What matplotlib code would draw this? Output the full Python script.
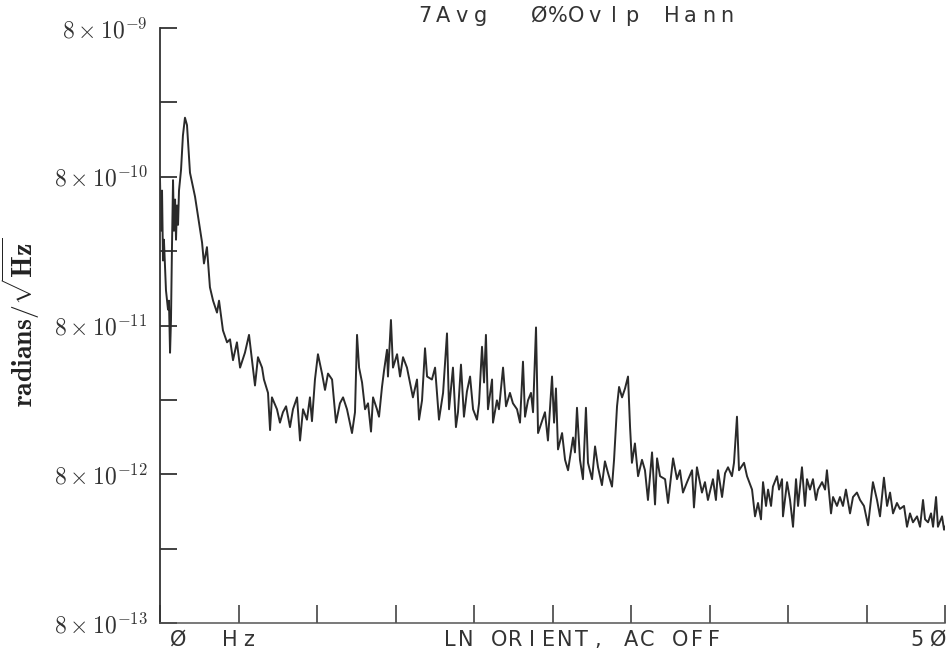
import numpy as np
import matplotlib
matplotlib.use("Agg")
import matplotlib.pyplot as plt
from matplotlib.ticker import FixedLocator, NullFormatter

# spectrum: frequency (Hz) and log10 of amplitude (radians/sqrt(Hz))
freq_hz = [
    0.00, 0.06, 0.13, 0.19, 0.25, 0.38, 0.51, 0.57, 0.64, 0.70, 0.76, 0.83, 0.89, 0.96,
    1.02, 1.08, 1.15, 1.21, 1.34, 1.46, 1.59, 1.72, 1.91, 2.23, 2.68, 2.80, 2.99, 3.18,
    3.38, 3.63, 3.76, 4.01, 4.27, 4.46, 4.65, 4.90, 5.10, 5.41, 5.67, 5.92, 6.05, 6.24,
    6.50, 6.62, 6.88, 7.01, 7.13, 7.45, 7.64, 7.83, 8.03, 8.28, 8.47, 8.73, 8.92, 9.11,
    9.36, 9.55, 9.68, 9.87, 10.06, 10.32, 10.51, 10.70, 10.96, 11.21,
    11.46, 11.66, 11.91, 12.23, 12.42, 12.55, 12.68, 12.87, 13.06, 13.25, 13.44, 13.57,
    13.82, 13.95, 14.14, 14.27, 14.46, 14.52, 14.71, 14.84, 15.10, 15.29, 15.48, 15.73,
    15.92, 16.11, 16.37, 16.50, 16.69, 16.88, 17.01, 17.32, 17.52, 17.77, 18.03, 18.28,
    18.41, 18.66, 18.85, 18.98, 19.17, 19.36, 19.55, 19.75, 19.94, 20.19, 20.32, 20.51,
    20.64, 20.76, 20.89, 21.15, 21.21, 21.46, 21.59, 21.85, 22.04, 22.29, 22.48, 22.74,
    22.93, 23.12, 23.25, 23.44, 23.63, 23.76, 23.95, 24.08,
    24.52, 24.71, 24.97, 25.10, 25.22, 25.35, 25.61, 25.80, 25.99, 26.31, 26.43, 26.56,
    26.75, 26.94, 27.13, 27.26, 27.52, 27.71, 27.90, 28.15, 28.34, 28.54, 28.79, 28.92,
    29.11, 29.24, 29.43, 29.62, 29.81, 29.94, 30.06, 30.25, 30.45, 30.70, 30.89, 31.08,
    31.34, 31.53, 31.66, 31.85, 32.17, 32.36, 32.68, 32.93, 33.12, 33.31, 33.57, 33.89,
    34.01, 34.20, 34.52, 34.71, 34.90, 35.22, 35.41, 35.54, 35.80, 35.99, 36.18, 36.43,
    36.56, 36.75, 36.88,
    37.20, 37.39, 37.71, 37.90, 38.09, 38.28, 38.41, 38.60, 38.73, 38.92, 39.04, 39.30,
    39.43, 39.62, 39.68, 39.94, 40.13, 40.32, 40.51, 40.64, 40.89, 41.08, 41.21, 41.40,
    41.59, 41.78, 41.91, 42.17, 42.36, 42.48, 42.74, 42.87, 43.12, 43.31, 43.50, 43.69,
    43.95, 44.14, 44.39, 44.59, 44.84, 45.10, 45.41, 45.67, 45.86, 46.11, 46.31, 46.50,
    46.69, 46.94, 47.13, 47.39, 47.58, 47.77, 47.96, 48.22, 48.41, 48.60, 48.73, 48.92,
    49.11, 49.24, 49.43, 49.55, 49.81, 49.94, 50.00,
]
log_amp = [
    -9.11, -9.46, -9.19, -9.66, -9.52, -9.86, -9.99, -9.93, -10.28, -10.06, -9.59, -9.12, -9.46, -9.25,
    -9.52, -9.29, -9.42, -9.19, -9.05, -8.82, -8.70, -8.75, -9.07, -9.23, -9.54, -9.68, -9.57, -9.84,
    -9.93, -10.01, -9.93, -10.13, -10.21, -10.19, -10.33, -10.21, -10.38, -10.28, -10.16, -10.38, -10.50, -10.31,
    -10.38, -10.46, -10.55, -10.80, -10.58, -10.66, -10.75, -10.68, -10.64, -10.78, -10.66, -10.58, -10.87, -10.66,
    -10.73, -10.58, -10.74, -10.46, -10.29, -10.42, -10.53, -10.42, -10.46, -10.75,
    -10.62, -10.58, -10.66, -10.82, -10.68, -10.16, -10.38, -10.48, -10.66, -10.62, -10.81, -10.58,
    -10.66, -10.71, -10.51, -10.40, -10.26, -10.44, -10.06, -10.38, -10.29, -10.44, -10.31, -10.38,
    -10.48, -10.58, -10.46, -10.73, -10.60, -10.25, -10.44, -10.46, -10.38, -10.73, -10.55, -10.15,
    -10.66, -10.38, -10.78, -10.68, -10.36, -10.71, -10.54, -10.44, -10.66, -10.73, -10.62, -10.24,
    -10.48, -10.16, -10.66, -10.46, -10.75, -10.60, -10.66, -10.38, -10.64, -10.55, -10.62, -10.66,
    -10.75, -10.34, -10.71, -10.60, -10.55, -10.68, -10.11, -10.82,
    -10.68, -10.87, -10.44, -10.75, -10.52, -10.93, -10.82, -11.00, -11.07, -10.85, -10.95, -10.65,
    -11.00, -11.13, -10.65, -11.02, -11.13, -10.91, -11.05, -11.17, -11.01, -11.09, -11.18, -11.00,
    -10.64, -10.51, -10.58, -10.52, -10.44, -10.78, -11.02, -10.89, -11.11, -11.00, -11.07, -11.27,
    -10.95, -11.30, -10.99, -11.11, -11.13, -11.29, -10.99, -11.13, -11.07, -11.22, -11.15, -11.07,
    -11.32, -11.05, -11.22, -11.15, -11.27, -11.13, -11.27, -11.07, -11.25, -11.09, -11.05, -11.11,
    -11.02, -10.71, -11.07,
    -11.02, -11.11, -11.20, -11.38, -11.29, -11.40, -11.15, -11.31, -11.20, -11.31, -11.18, -11.11,
    -11.20, -11.13, -11.38, -11.15, -11.27, -11.45, -11.13, -11.31, -11.05, -11.31, -11.13, -11.20,
    -11.13, -11.27, -11.20, -11.15, -11.20, -11.07, -11.36, -11.25, -11.31, -11.25, -11.31, -11.20,
    -11.36, -11.25, -11.22, -11.27, -11.31, -11.44, -11.15, -11.27, -11.38, -11.12, -11.31, -11.22,
    -11.36, -11.29, -11.33, -11.31, -11.45, -11.36, -11.42, -11.38, -11.45, -11.27, -11.40, -11.42,
    -11.36, -11.45, -11.25, -11.45, -11.38, -11.47, -11.45,
]

ytick_values = [8e-13, 8e-12, 8e-11, 8e-10, 8e-9]
ytick_labels = [r"$8\times10^{-13}$", r"$8\times10^{-12}$", r"$8\times10^{-11}$",
                r"$8\times10^{-10}$", r"$8\times10^{-9}$"]
xtick_values = [0, 5, 10, 15, 20, 25, 30, 35, 40, 45, 50]

title_parts = ["7Avg", "Ø%Ovlp", "Hann"]
bottom_parts = ["Ø", "Hz", "LN ORIENT, AC OFF", "5Ø"]


def plotter_text(fig, x_px, y_px, s, pitch_px, size=15, glyph_px=13):
    # plotter style lettering: fixed pitch, one glyph at a time
    W, H = fig.get_size_inches() * fig.dpi
    for i, ch in enumerate(s):
        if ch == " ":
            continue
        cx = x_px + glyph_px / 2 + i * pitch_px
        fig.text(cx / W, 1 - y_px / H, ch, ha="center", va="center",
                 fontsize=size, family="DejaVu Sans", color="#333333")


def main():
    plt.rcParams["mathtext.fontset"] = "cm"

    fig = plt.figure(figsize=(9.49, 6.5), dpi=100)
    ax = fig.add_axes([160 / 949, 1 - 623 / 650, 785 / 949, 595 / 650])

    amp = 10 ** np.array(log_amp)
    ax.semilogy(freq_hz, amp, color="#2a2a2a", lw=1.4)

    ax.set_xlim(0, 50)
    ax.set_ylim(8e-13, 8e-9)

    ax.yaxis.set_major_locator(FixedLocator(ytick_values))
    ax.set_yticklabels(ytick_labels)
    minor = [np.sqrt(a * b) for a, b in zip(ytick_values[:-1], ytick_values[1:])]
    ax.yaxis.set_minor_locator(FixedLocator(minor))
    ax.yaxis.set_minor_formatter(NullFormatter())
    ax.tick_params(axis="y", which="both", direction="in", length=12.5, width=1.3,
                   color="#333333", labelsize=17, pad=9, labelcolor="#333333")

    ax.set_xticks(xtick_values)
    ax.set_xticklabels([])
    ax.tick_params(axis="x", direction="in", length=13, width=1.2, color="#444444")

    for side in ["top", "right"]:
        ax.spines[side].set_visible(False)
    ax.spines["left"].set_color("#333333")
    ax.spines["left"].set_linewidth(1.3)
    ax.spines["bottom"].set_color("#555555")
    ax.spines["bottom"].set_linewidth(1.1)

    fig.text(21 / 949, 1 - 322 / 650, r"$\mathbf{radians}/\sqrt{\mathbf{Hz}}$",
             rotation=90, ha="center", va="center", fontsize=20, color="#222222")

    # header line and bottom annotation in plotter lettering
    plotter_text(fig, 418, 16, title_parts[0], 18.5)
    plotter_text(fig, 533, 16, title_parts[1], 18.5)
    plotter_text(fig, 665, 16, title_parts[2], 18.5)

    plotter_text(fig, 172, 640, bottom_parts[0], 17)
    plotter_text(fig, 223, 640, bottom_parts[1], 19)
    plotter_text(fig, 443, 640, bottom_parts[2], 16.5)
    plotter_text(fig, 910, 640, bottom_parts[3], 22)

    fig.savefig("out.png", dpi=100)
    plt.close(fig)


if __name__ == "__main__":
    main()
